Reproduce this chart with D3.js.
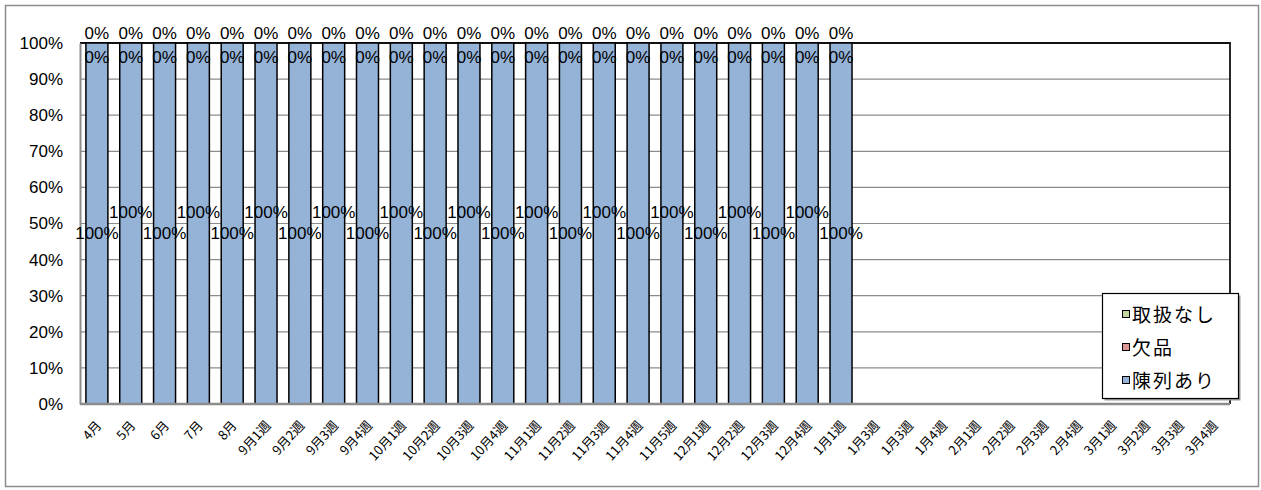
<!DOCTYPE html>
<html>
<head>
<meta charset="utf-8">
<script src="https://cdn.jsdelivr.net/npm/d3@7"></script>
<style>
  body { margin: 0; background: #fff; }
  svg text { fill: #000; }
  .num { font-family: "Liberation Sans", Arial, sans-serif; font-size: 17px; }
  .xlab { font-family: "Noto Sans CJK JP", sans-serif; font-size: 13px; }
  .leg { font-family: "Noto Sans CJK JP", sans-serif; font-size: 19px; letter-spacing: 2px; }
</style>
</head>
<body>
<svg width="1261" height="490"></svg>
<script>
var categories = ["4月", "5月", "6月", "7月", "8月", "9月1週", "9月2週", "9月3週", "9月4週",
  "10月1週", "10月2週", "10月3週", "10月4週", "11月1週", "11月2週", "11月3週", "11月4週", "11月5週",
  "12月1週", "12月2週", "12月3週", "12月4週", "1月1週", "1月3週", "1月3週", "1月4週",
  "2月1週", "2月2週", "2月3週", "2月4週", "3月1週", "3月2週", "3月3週", "3月4週"];

// 陳列あり / 欠品 / 取扱なし (%), blank weeks = null
var chinretsu = [100, 100, 100, 100, 100, 100, 100, 100, 100, 100, 100, 100, 100, 100, 100, 100, 100, 100,
  100, 100, 100, 100, 100, null, null, null, null, null, null, null, null, null, null, null];
var keppin = [0, 0, 0, 0, 0, 0, 0, 0, 0, 0, 0, 0, 0, 0, 0, 0, 0, 0,
  0, 0, 0, 0, 0, null, null, null, null, null, null, null, null, null, null, null];
var toriatsukai = [0, 0, 0, 0, 0, 0, 0, 0, 0, 0, 0, 0, 0, 0, 0, 0, 0, 0,
  0, 0, 0, 0, 0, null, null, null, null, null, null, null, null, null, null, null];

var yTicks = [0, 10, 20, 30, 40, 50, 60, 70, 80, 90, 100];
var seriesNames = ["陳列あり", "欠品", "取扱なし"];
var colors = ["#95b3d7", "#d99694", "#c3d69b"];

var rows = categories.map(function(c, i) {
  return {i: i, name: c, a: chinretsu[i], b: keppin[i], c: toriatsukai[i]};
});

var svg = d3.select("svg"),
    margin = {top: 43, right: 31, bottom: 86, left: 80},
    width = +svg.attr("width") - margin.left - margin.right,
    height = +svg.attr("height") - margin.top - margin.bottom;

// outer chart frame
svg.append("rect")
   .attr("x", 5.5).attr("y", 5.5)
   .attr("width", 1253).attr("height", 481)
   .attr("fill", "#fff").attr("stroke", "#8c8c8c").attr("stroke-width", 1.5);

var g = svg.append("g").attr("transform", "translate(" + margin.left + "," + margin.top + ")");

var x = d3.scaleBand()
          .domain(rows.map(function(d) { return d.i; }))
          .range([0, width])
          .paddingInner(0.35)
          .paddingOuter(0.175);

var y = d3.scaleLinear()
          .domain([0, 100])
          .range([height, 0]);

// gridlines
g.append("g")
 .selectAll("line")
 .data(yTicks)
 .enter().append("line")
 .attr("x1", 0).attr("x2", width)
 .attr("y1", function(d) { return y(d); })
 .attr("y2", function(d) { return y(d); })
 .attr("stroke", "#8c8c8c").attr("stroke-width", 1.2);

// plot area border (top / right are dark)
g.append("path")
 .attr("d", "M0,0H" + width + "V" + height)
 .attr("fill", "none").attr("stroke", "#111").attr("stroke-width", 1.8);

var stack = d3.stack()
              .keys(["a", "b", "c"])
              .value(function(d, k) { return d[k] == null ? 0 : d[k]; });
var layers = stack(rows.filter(function(d) { return d.a != null; }));

g.selectAll(".layer")
 .data(layers)
 .enter().append("g")
 .attr("class", "layer")
 .attr("fill", function(d, i) { return colors[i]; })
 .selectAll("rect")
 .data(function(d) { return d; })
 .enter().append("rect")
 .attr("x", function(d) { return x(d.data.i); })
 .attr("width", x.bandwidth())
 .attr("y", function(d) { return y(d[1]); })
 .attr("height", function(d) { return y(d[0]) - y(d[1]); })
 .attr("stroke", "#000").attr("stroke-width", 1.5);

// y axis
var yAxis = g.append("g")
 .call(d3.axisLeft(y).tickValues(yTicks).tickSize(0).tickPadding(17)
         .tickFormat(function(d) { return d + "%"; }));
yAxis.select(".domain").attr("stroke", "#8c8c8c").attr("stroke-width", 2);
yAxis.selectAll("text").attr("class", "num").attr("fill", "#000").attr("font-size", null).attr("font-family", null);

// x axis line + slanted category labels
g.append("line")
 .attr("x1", 0).attr("x2", width)
 .attr("y1", height).attr("y2", height)
 .attr("stroke", "#8c8c8c").attr("stroke-width", 2.5);

g.append("g")
 .selectAll("text")
 .data(rows)
 .enter().append("text")
 .attr("class", "xlab")
 .attr("text-anchor", "end")
 .attr("y", 4.5)
 .attr("transform", function(d) {
   return "translate(" + (x(d.i) + x.bandwidth() / 2 + 2) + "," + (height + 19) + ") rotate(-48)";
 })
 .text(function(d) { return d.name; });

// data labels
var fmt = function(v) { return v + "%"; };
var lab = g.append("g").attr("class", "num").attr("text-anchor", "middle");
layers[0].forEach(function(d, k) {
  lab.append("text")
     .attr("x", x(d.data.i) + x.bandwidth() / 2)
     .attr("y", (y(d[0]) + y(d[1])) / 2 + (k % 2 === 0 ? 10 : -11))
     .attr("dy", "0.35em")
     .text(fmt(d.data.a));
});
layers[1].forEach(function(d) {
  lab.append("text")
     .attr("x", x(d.data.i) + x.bandwidth() / 2)
     .attr("y", y(d[1]) + 14)
     .attr("dy", "0.35em")
     .text(fmt(d.data.b));
});
layers[2].forEach(function(d) {
  lab.append("text")
     .attr("x", x(d.data.i) + x.bandwidth() / 2)
     .attr("y", y(d[1]) - 10)
     .attr("dy", "0.35em")
     .text(fmt(d.data.c));
});

// legend
var legend = svg.append("g").attr("transform", "translate(1102,293)");
legend.append("rect")
      .attr("x", 2.5).attr("y", 2.5).attr("width", 136).attr("height", 105)
      .attr("fill", "#9a9a9a");
legend.append("rect")
      .attr("x", 0.5).attr("y", 0.5).attr("width", 136).attr("height", 105)
      .attr("fill", "#fff").attr("stroke", "#000").attr("stroke-width", 1.2);
var items = legend.selectAll(".item")
      .data([2, 1, 0])
      .enter().append("g")
      .attr("transform", function(d, k) { return "translate(20," + (22 + k * 33) + ")"; });
items.append("rect")
     .attr("x", 0.5).attr("y", -4.5).attr("width", 7).attr("height", 7)
     .attr("fill", function(d) { return colors[d]; })
     .attr("stroke", "#000").attr("stroke-width", 1);
items.append("text")
     .attr("class", "leg")
     .attr("x", 10)
     .attr("dy", "0.35em")
     .text(function(d) { return seriesNames[d]; });
</script>
</body>
</html>
